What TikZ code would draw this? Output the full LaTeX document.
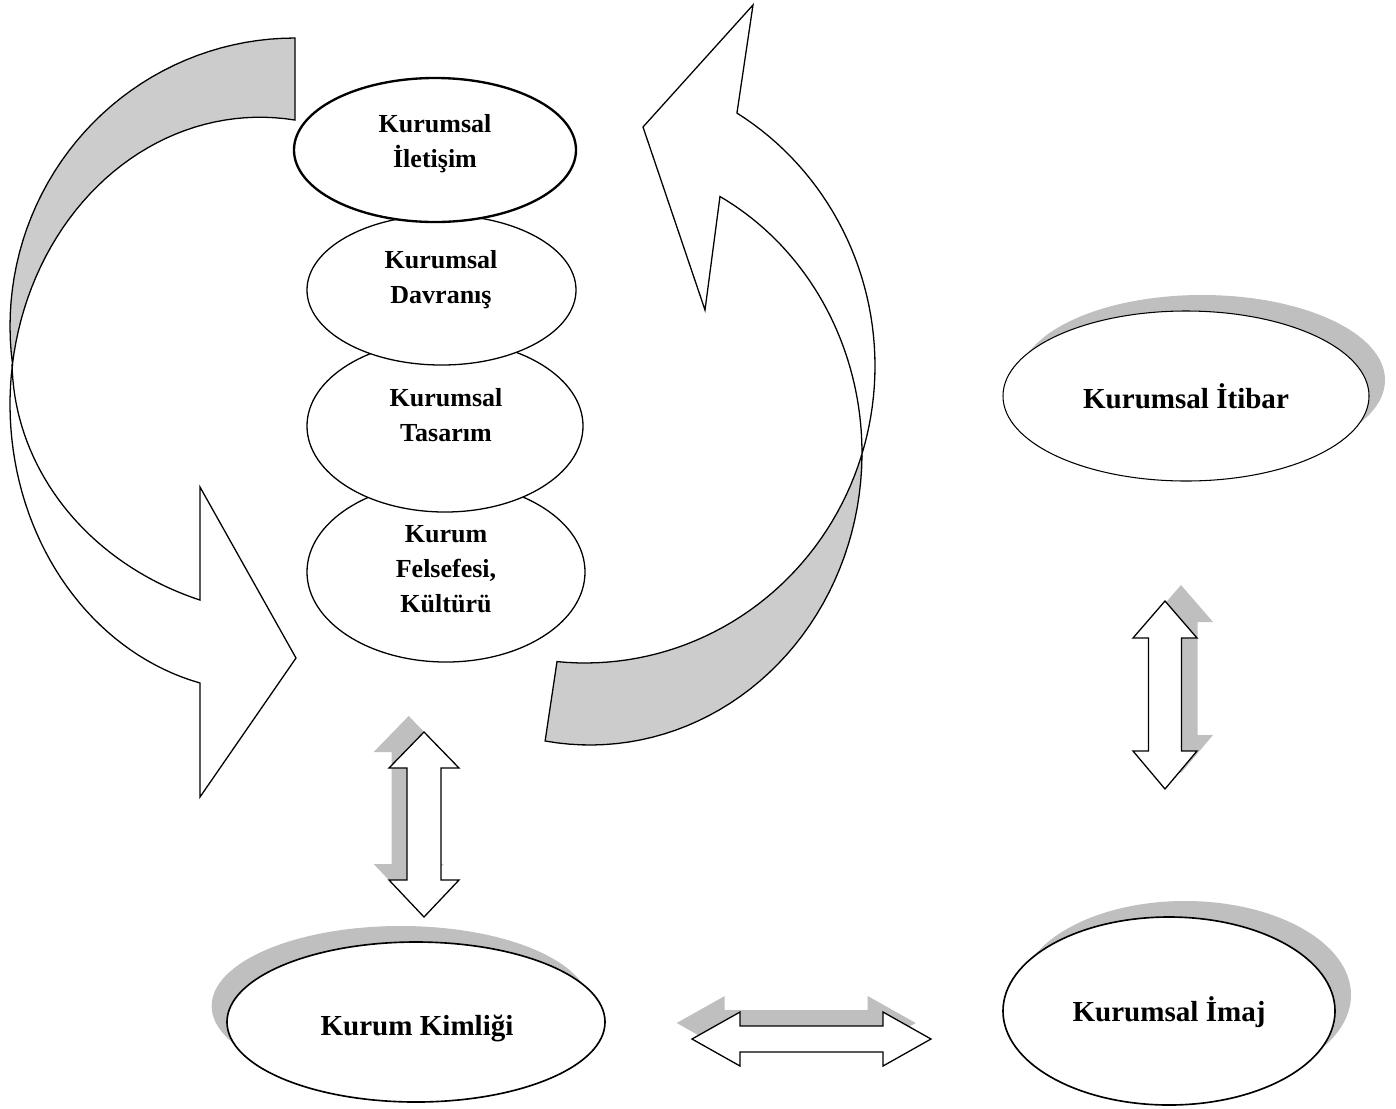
\documentclass[tikz,border=0pt]{standalone}
\usepackage{fontspec}
\setmainfont{Liberation Serif}
\usetikzlibrary{shapes.geometric}
\usetikzlibrary{shadows}
\definecolor{shadegray}{gray}{0.75}
\definecolor{backgray}{gray}{0.8}
\tikzset{
  blob/.style={ellipse, draw, fill=white, inner sep=0pt, line width=0.55pt},
  tag/.style={font=\bfseries\fontsize{11.1}{15}\selectfont, align=center},
  bigtag/.style={font=\bfseries\fontsize{12.4}{15}\selectfont},
  band/.style={draw, fill=white, line width=0.55pt, line join=miter},
  backface/.style={draw, fill=backgray, line width=0.55pt},
  shadowL/.style={drop shadow={shadow xshift=-0.23cm, shadow yshift=0.24cm, fill=shadegray, draw=none, opacity=1}},
  shadowR/.style={drop shadow={shadow xshift=0.24cm, shadow yshift=0.24cm, fill=shadegray, draw=none, opacity=1}}
}

\begin{document}
\begin{tikzpicture}[x=0.015cm, y=-0.015cm]
      \useasboundingbox (0,0) rectangle (1396,1108);

      \draw[backface] (295,38) -- plot[domain=270:172.26, samples=40] ({295+285*cos(\x)}, {326.2+288.2*sin(\x)})
        -- plot[domain=187.87:278.05, samples=40] ({260+250*cos(\x)}, {404.3+287.1*sin(\x)}) -- cycle;
      \draw[band] plot[domain=187.87:103.9, samples=40] ({260+250*cos(\x)}, {404.3+287.1*sin(\x)})
        -- (200,797) -- (296,658) -- (200,487)
        -- plot[domain=110.3:178.9, samples=40] ({300+288*cos(\x)}, {360+256*sin(\x)}) -- cycle;

      \draw[backface] plot[domain=0.6:99.5, samples=40] ({590+272*cos(\x)}, {453+292*sin(\x)})
        -- (557,661.6) -- plot[domain=95.5:17.6, samples=40] ({585+290*cos(\x)}, {366+297*sin(\x)}) -- cycle;
      \draw[band] plot[domain=-58.4:17.6, samples=40] ({585+290*cos(\x)}, {366+297*sin(\x)})
        -- plot[domain=0.6:-61.45, samples=40] ({590+272*cos(\x)}, {453+292*sin(\x)})
        -- (705,310) -- (643,127) -- (753,5) -- cycle;

      \node[blob, minimum width=4.17cm, minimum height=2.70cm] (felsefe) at (446,572) {};
      \node[blob, minimum width=4.14cm, minimum height=2.58cm] (tasarim) at (445,426) {};
      \node[blob, minimum width=4.035cm, minimum height=2.25cm] (davranis) at (441.5,290) {};
      \node[blob, line width=1pt, minimum width=4.23cm, minimum height=2.16cm] (iletisim) at (435,150) {};

      \node[tag] (iletisimT) at (435,144) {Kurumsal\\İletişim};
      \node[tag] (davranisT) at (441,280) {Kurumsal\\Davranış};
      \node[tag] (tasarimT) at (446,415) {Kurumsal\\Tasarım};
      \node[tag] (felsefeT) at (446,569) {Kurum\\Felsefesi,\\Kültürü};

      \node[blob, shadowR, line width=0.45pt, minimum width=5.49cm, minimum height=2.55cm] (itibar) at (1186,396) {};
      \node[blob, shadowL, line width=0.7pt, minimum width=5.67cm, minimum height=2.40cm] (kimlik) at (416,1022) {};
      \node[blob, shadowR, line width=0.7pt, minimum width=4.98cm, minimum height=2.82cm] (imaj) at (1169,1011) {};

      \node[bigtag] (itibarT) at (1186,396) {Kurumsal İtibar};
      \node[bigtag] (kimlikT) at (417,1028) {Kurum Kimliği};
      \node[bigtag] (imajT) at (1169,1012) {Kurumsal İmaj};

      \coordinate (link1) at (424,824.5);
      \coordinate (link2) at (1165,695);
      \coordinate (link3) at (811.5,1039);

      \draw[band, shadowL, shift={(link1)}] (0,-92.5) -- (35,-56.5) -- (17,-56.5) -- (17,55.5) -- (35,55.5) -- (0,92.5)
        -- (-35,55.5) -- (-17,55.5) -- (-17,-56.5) -- (-35,-56.5) -- cycle;
      \draw[band, shadowR, shift={(link2)}] (0,-94) -- (32,-57) -- (16.5,-57) -- (16.5,56) -- (32,56) -- (0,94)
        -- (-32,56) -- (-16.5,56) -- (-16.5,-57) -- (-32,-57) -- cycle;
      \draw[band, shadowL, shift={(link3)}] (-119.5,0) -- (-71.5,-27) -- (-71.5,-13) -- (71.5,-13) -- (71.5,-27) -- (119.5,0)
        -- (71.5,27) -- (71.5,13) -- (-71.5,13) -- (-71.5,27) -- cycle;
\end{tikzpicture}
\end{document}
